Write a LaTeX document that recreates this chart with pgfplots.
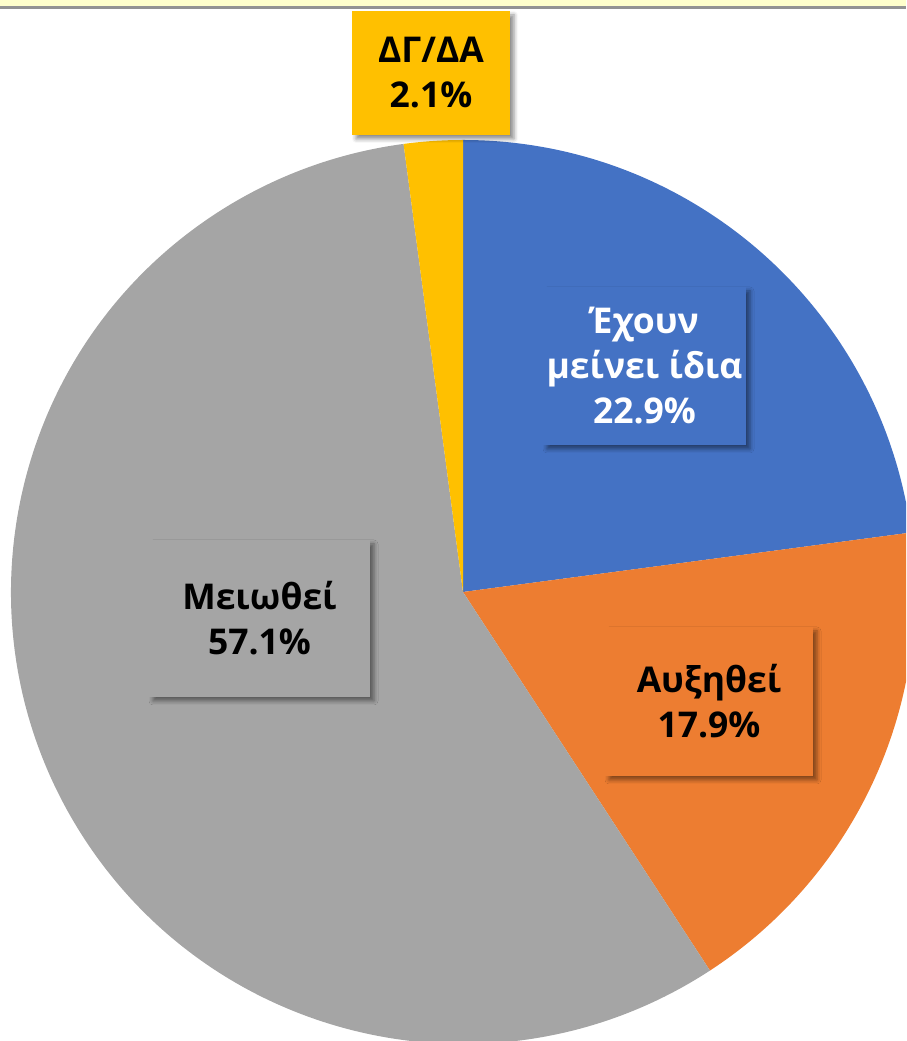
\documentclass[border=0pt]{standalone}
\usepackage{pgfplots}
\pgfplotsset{compat=1.18}
\usepackage{pgfplotstable}
\usetikzlibrary{shadows.blur}
\usepackage{fontspec}
\setmainfont{Open Sans}
\definecolor{slice0}{HTML}{4472C4}
\definecolor{slice1}{HTML}{ED7D31}
\definecolor{slice2}{HTML}{A5A5A5}
\definecolor{slice3}{HTML}{FFC000}
\definecolor{topbar}{HTML}{FFFFCC}
\pgfplotstableread[col sep=comma]{
value
22.9
17.9
57.1
2.1
}\piedata
\begin{document}
\begin{tikzpicture}
\begin{axis}[x=1pt,y=1pt,xmin=-463,xmax=443,ymin=-449,ymax=592,
  hide axis, clip=true, scale only axis]
\def\cum{0}
\pgfplotsforeachungrouped \i in {0,...,3}{%
  \pgfplotstablegetelem{\i}{value}\of\piedata
  \let\v=\pgfplotsretval
  \pgfmathsetmacro\sa{90-3.6*\cum}%
  \pgfmathsetmacro\newcum{\cum+\v}%
  \global\let\cum=\newcum
  \pgfmathsetmacro\ea{90-3.6*\cum}%
  \pgfmathsetmacro\sx{452*cos(\sa)}%
  \pgfmathsetmacro\sy{452*sin(\sa)}%
  \edef\tmp{\noexpand\fill[slice\i] (axis cs:0,0) -- (axis cs:\sx,\sy) arc[start angle=\sa, end angle=\ea, radius=452pt] -- cycle;}%
  \tmp
}
\fill[topbar] (axis cs:-463,586) rectangle (axis cs:443,592);
\fill[gray!85] (axis cs:-463,583) rectangle (axis cs:443,586);
\tikzset{lbl/.style={align=center, inner sep=0pt,
  blur shadow={shadow xshift=4pt, shadow yshift=-4pt, shadow blur radius=4pt, shadow opacity=45},
  font=\fontsize{35.5}{45}\selectfont\bfseries}}
\node[lbl, fill=slice3, minimum width=158pt, minimum height=124pt, text=black] at (axis cs:-32,519) {ΔΓ/ΔΑ\\2.1\%};
\node[lbl, fill=slice0, minimum width=203pt, minimum height=158pt, text=white] at (axis cs:181.5,226) {Έχουν\\μείνει ίδια\\22.9\%};
\node[lbl, fill=slice2, minimum width=221pt, minimum height=157pt, text=black] at (axis cs:-203.5,-26.5) {Μειωθεί\\57.1\%};
\node[lbl, fill=slice1, minimum width=208pt, minimum height=149pt, text=black] at (axis cs:246,-109.5) {Αυξηθεί\\17.9\%};
\end{axis}
\pgfresetboundingbox
\path[use as bounding box] (current axis.south west) rectangle (current axis.north east);
\end{tikzpicture}
\end{document}
